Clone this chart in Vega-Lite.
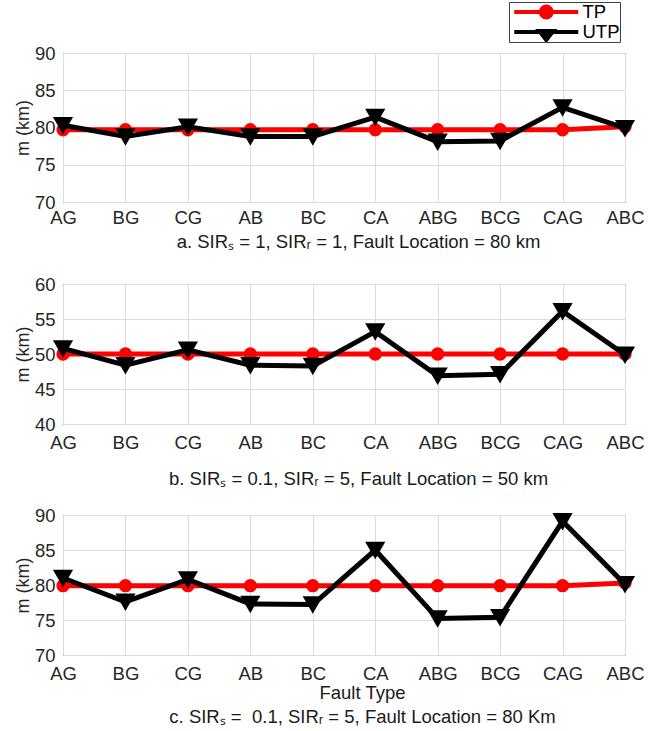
{
  "$schema": "https://vega.github.io/schema/vega-lite/v6.json",
  "background": "white",
  "padding": {"left": 13, "top": 1, "right": 5, "bottom": 3},
  "config": {
    "font": "Liberation Sans",
    "view": {"stroke": "#262626", "strokeWidth": 1},
    "axis": {
      "domain": false,
      "ticks": false,
      "grid": true,
      "gridColor": "#dcdcdc",
      "labelFont": "Liberation Sans",
      "labelFontSize": 18.5,
      "labelColor": "#262626",
      "titleFont": "Liberation Sans",
      "titleFontWeight": "normal",
      "titleColor": "#262626"
    },
    "axisX": {"labelPadding": 9, "labelAngle": 0, "titleFontSize": 18.5, "titleColor": "#1a1a1a", "titleLineHeight": 24},
    "axisY": {"labelPadding": 8, "titleFontSize": 18, "titlePadding": 2.4}
  },
  "datasets": {
    "a": [
      {"i": 1, "type": "AG", "series": "TP", "m": 79.7},
      {"i": 2, "type": "BG", "series": "TP", "m": 79.7},
      {"i": 3, "type": "CG", "series": "TP", "m": 79.7},
      {"i": 4, "type": "AB", "series": "TP", "m": 79.7},
      {"i": 5, "type": "BC", "series": "TP", "m": 79.7},
      {"i": 6, "type": "CA", "series": "TP", "m": 79.7},
      {"i": 7, "type": "ABG", "series": "TP", "m": 79.7},
      {"i": 8, "type": "BCG", "series": "TP", "m": 79.7},
      {"i": 9, "type": "CAG", "series": "TP", "m": 79.7},
      {"i": 10, "type": "ABC", "series": "TP", "m": 80.1},
      {"i": 1, "type": "AG", "series": "UTP", "m": 80.3},
      {"i": 2, "type": "BG", "series": "UTP", "m": 78.8},
      {"i": 3, "type": "CG", "series": "UTP", "m": 80.1},
      {"i": 4, "type": "AB", "series": "UTP", "m": 78.8},
      {"i": 5, "type": "BC", "series": "UTP", "m": 78.8},
      {"i": 6, "type": "CA", "series": "UTP", "m": 81.4},
      {"i": 7, "type": "ABG", "series": "UTP", "m": 78.1},
      {"i": 8, "type": "BCG", "series": "UTP", "m": 78.2},
      {"i": 9, "type": "CAG", "series": "UTP", "m": 82.7},
      {"i": 10, "type": "ABC", "series": "UTP", "m": 79.9}
    ],
    "b": [
      {"i": 1, "type": "AG", "series": "TP", "m": 50.0},
      {"i": 2, "type": "BG", "series": "TP", "m": 50.0},
      {"i": 3, "type": "CG", "series": "TP", "m": 50.0},
      {"i": 4, "type": "AB", "series": "TP", "m": 50.0},
      {"i": 5, "type": "BC", "series": "TP", "m": 50.0},
      {"i": 6, "type": "CA", "series": "TP", "m": 50.0},
      {"i": 7, "type": "ABG", "series": "TP", "m": 50.0},
      {"i": 8, "type": "BCG", "series": "TP", "m": 50.0},
      {"i": 9, "type": "CAG", "series": "TP", "m": 50.0},
      {"i": 10, "type": "ABC", "series": "TP", "m": 50.0},
      {"i": 1, "type": "AG", "series": "UTP", "m": 50.8},
      {"i": 2, "type": "BG", "series": "UTP", "m": 48.4},
      {"i": 3, "type": "CG", "series": "UTP", "m": 50.6},
      {"i": 4, "type": "AB", "series": "UTP", "m": 48.4},
      {"i": 5, "type": "BC", "series": "UTP", "m": 48.3},
      {"i": 6, "type": "CA", "series": "UTP", "m": 53.2},
      {"i": 7, "type": "ABG", "series": "UTP", "m": 46.9},
      {"i": 8, "type": "BCG", "series": "UTP", "m": 47.1},
      {"i": 9, "type": "CAG", "series": "UTP", "m": 56.1},
      {"i": 10, "type": "ABC", "series": "UTP", "m": 49.9}
    ],
    "c": [
      {"i": 1, "type": "AG", "series": "TP", "m": 79.9},
      {"i": 2, "type": "BG", "series": "TP", "m": 79.9},
      {"i": 3, "type": "CG", "series": "TP", "m": 79.9},
      {"i": 4, "type": "AB", "series": "TP", "m": 79.9},
      {"i": 5, "type": "BC", "series": "TP", "m": 79.9},
      {"i": 6, "type": "CA", "series": "TP", "m": 79.9},
      {"i": 7, "type": "ABG", "series": "TP", "m": 79.9},
      {"i": 8, "type": "BCG", "series": "TP", "m": 79.9},
      {"i": 9, "type": "CAG", "series": "TP", "m": 79.9},
      {"i": 10, "type": "ABC", "series": "TP", "m": 80.3},
      {"i": 1, "type": "AG", "series": "UTP", "m": 81.0},
      {"i": 2, "type": "BG", "series": "UTP", "m": 77.6},
      {"i": 3, "type": "CG", "series": "UTP", "m": 80.8},
      {"i": 4, "type": "AB", "series": "UTP", "m": 77.3},
      {"i": 5, "type": "BC", "series": "UTP", "m": 77.2},
      {"i": 6, "type": "CA", "series": "UTP", "m": 85.0},
      {"i": 7, "type": "ABG", "series": "UTP", "m": 75.2},
      {"i": 8, "type": "BCG", "series": "UTP", "m": 75.4},
      {"i": 9, "type": "CAG", "series": "UTP", "m": 89.1},
      {"i": 10, "type": "ABC", "series": "UTP", "m": 80.1}
    ]
  },
  "spacing": 23,
  "resolve": {"scale": {"color": "shared"}, "legend": {"color": "shared"}},
  "vconcat": [
    {
      "width": 562,
      "height": 149,
      "data": {"name": "a"},
      "encoding": {
        "x": {
          "field": "type", "type": "ordinal",
          "scale": {"type": "point", "padding": 0, "domain": ["AG", "BG", "CG", "AB", "BC", "CA", "ABG", "BCG", "CAG", "ABC"]},
          "axis": {"title": "a. SIRₛ = 1, SIRᵣ = 1, Fault Location = 80 km", "labelPadding": 6, "titlePadding": 5.5, "titleX": 295}
        },
        "y": {
          "field": "m", "type": "quantitative",
          "scale": {"domain": [70, 90], "nice": false, "zero": false},
          "axis": {"values": [70, 75, 80, 85, 90], "title": "m (km)"}
        },
        "color": {
          "field": "series", "type": "nominal",
          "scale": {"domain": ["TP", "UTP"], "range": ["#ff0000", "#000000"]},
          "legend": {
            "title": null,
            "orient": "none",
            "legendX": 446,
            "legendY": -51,
            "symbolSize": 100,
            "symbolStrokeWidth": 4,
            "labelFont": "Liberation Sans",
            "labelFontSize": 18.5,
            "labelColor": "#000000",
            "labelOffset": 55,
            "padding": 0,
            "rowPadding": 0,
            "clipHeight": 20,
            "strokeColor": "#404040",
            "fillColor": "white",
            "encode": {
              "symbols": {
                "update": {
                  "shape": {"signal": "datum.value === 'TP' ? 'M-0.8,0H12M6.7,0A1.1,1.1,0,1,1,4.5,0A1.1,1.1,0,1,1,6.7,0Z' : 'M-0.8,0H12M4.2,-0.2L7,-0.2L5.6,1.6Z'"},
                  "strokeWidth": {"value": 4},
                  "fill": {"signal": "datum.value === 'TP' ? '#ff0000' : '#000000'"},
                  "stroke": {"signal": "datum.value === 'TP' ? '#ff0000' : '#000000'"},
                  "opacity": {"value": 1}
                }
              }
            }
          }
        },
        "order": {"field": "i"}
      },
      "layer": [
        {"transform": [{"filter": "datum.series === 'TP'"}], "mark": {"type": "line", "strokeWidth": 5}},
        {"transform": [{"filter": "datum.series === 'TP'"}], "mark": {"type": "point", "filled": true, "shape": "circle", "size": 177, "opacity": 1}},
        {"transform": [{"filter": "datum.series === 'UTP'"}], "mark": {"type": "line", "strokeWidth": 5}},
        {"transform": [{"filter": "datum.series === 'UTP'"}], "mark": {"type": "point", "filled": true, "shape": "triangle-down", "size": 280, "opacity": 1, "stroke": "#000000", "strokeWidth": 2}}
      ]
    },
    {
      "spacing": 17,
      "resolve": {"scale": {"color": "shared"}, "legend": {"color": "shared"}},
      "vconcat": [
        {
          "width": 562,
          "height": 140,
          "data": {"name": "b"},
          "encoding": {
            "x": {
              "field": "type", "type": "ordinal",
              "scale": {"type": "point", "padding": 0, "domain": ["AG", "BG", "CG", "AB", "BC", "CA", "ABG", "BCG", "CAG", "ABC"]},
              "axis": {"title": "b. SIRₛ = 0.1, SIRᵣ = 5, Fault Location = 50 km", "titlePadding": 17.5, "titleX": 295}
            },
            "y": {
              "field": "m", "type": "quantitative",
              "scale": {"domain": [40, 60], "nice": false, "zero": false},
              "axis": {"values": [40, 45, 50, 55, 60], "title": "m (km)"}
            },
            "color": {
              "field": "series", "type": "nominal",
              "scale": {"domain": ["TP", "UTP"], "range": ["#ff0000", "#000000"]}
            },
            "order": {"field": "i"}
          },
          "layer": [
            {"transform": [{"filter": "datum.series === 'TP'"}], "mark": {"type": "line", "strokeWidth": 5}},
            {"transform": [{"filter": "datum.series === 'TP'"}], "mark": {"type": "point", "filled": true, "shape": "circle", "size": 177, "opacity": 1}},
            {"transform": [{"filter": "datum.series === 'UTP'"}], "mark": {"type": "line", "strokeWidth": 5}},
            {"transform": [{"filter": "datum.series === 'UTP'"}], "mark": {"type": "point", "filled": true, "shape": "triangle-down", "size": 280, "opacity": 1, "stroke": "#000000", "strokeWidth": 2}}
          ]
        },
        {
          "width": 562,
          "height": 140,
          "data": {"name": "c"},
          "encoding": {
            "x": {
              "field": "type", "type": "ordinal",
              "scale": {"type": "point", "padding": 0, "domain": ["AG", "BG", "CG", "AB", "BC", "CA", "ABG", "BCG", "CAG", "ABC"]},
              "axis": {"title": ["Fault Type", "c. SIRₛ =\u00a0 0.1, SIRᵣ = 5, Fault Location = 80 Km"], "titlePadding": 0.5, "titleX": 299}
            },
            "y": {
              "field": "m", "type": "quantitative",
              "scale": {"domain": [70, 90], "nice": false, "zero": false},
              "axis": {"values": [70, 75, 80, 85, 90], "title": "m (km)"}
            },
            "color": {
              "field": "series", "type": "nominal",
              "scale": {"domain": ["TP", "UTP"], "range": ["#ff0000", "#000000"]}
            },
            "order": {"field": "i"}
          },
          "layer": [
            {"transform": [{"filter": "datum.series === 'TP'"}], "mark": {"type": "line", "strokeWidth": 5}},
            {"transform": [{"filter": "datum.series === 'TP'"}], "mark": {"type": "point", "filled": true, "shape": "circle", "size": 177, "opacity": 1}},
            {"transform": [{"filter": "datum.series === 'UTP'"}], "mark": {"type": "line", "strokeWidth": 5}},
            {"transform": [{"filter": "datum.series === 'UTP'"}], "mark": {"type": "point", "filled": true, "shape": "triangle-down", "size": 280, "opacity": 1, "stroke": "#000000", "strokeWidth": 2}}
          ]
        }
      ]
    }
  ]
}
